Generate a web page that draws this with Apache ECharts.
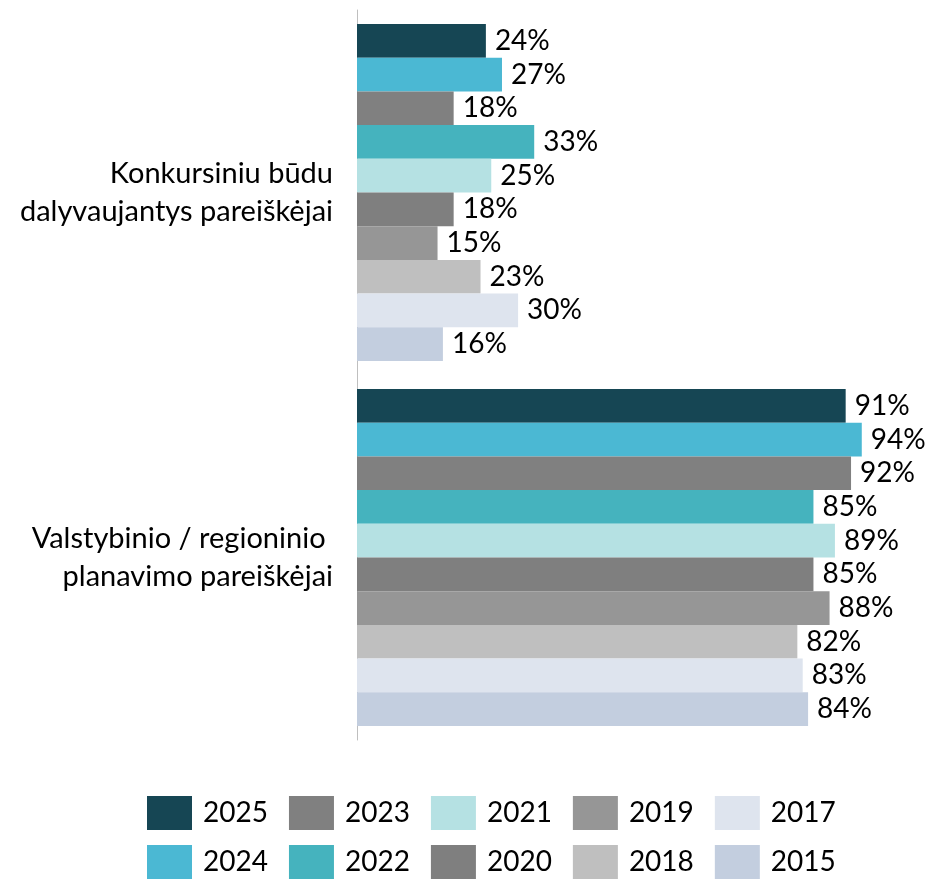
<!DOCTYPE html>
<html>
<head>
<meta charset="utf-8">
<script src="https://cdn.jsdelivr.net/npm/echarts@6/dist/echarts.min.js"></script>
<style>
  html, body { margin: 0; padding: 0; background: #fff; }
  #container { width: 931px; height: 879px; }
</style>
</head>
<body>
<div id="container"></div>
<script>
var categories = ['Konkursiniu būdu\ndalyvaujantys pareiškėjai', 'Valstybinio / regioninio \nplanavimo pareiškėjai'];
var years = ['2025', '2024', '2023', '2022', '2021', '2020', '2019', '2018', '2017', '2015'];
var colors = ['#164654', '#4BB8D3', '#808080', '#45B3BE', '#B5E1E3', '#7F7F7F', '#969696', '#BFBFBF', '#DEE4EE', '#C3CEDF'];
// values per year: [konkursiniu, valstybinio]
var values = {
    '2025': [24, 91],
    '2024': [27, 94],
    '2023': [18, 92],
    '2022': [33, 85],
    '2021': [25, 89],
    '2020': [18, 85],
    '2019': [15, 88],
    '2018': [23, 82],
    '2017': [30, 83],
    '2015': [16, 84]
};
var legendRow1 = ['2025', '2023', '2021', '2019', '2017'];
var legendRow2 = ['2024', '2022', '2020', '2018', '2015'];

var font = 'Lato, "DejaVu Sans", sans-serif';
var dom = document.getElementById('container');
var myChart = echarts.init(dom);

var series = years.map(function (y, i) {
    return {
        name: y,
        type: 'bar',
        data: values[y],
        barGap: 0,
        barCategoryGap: '7.7%',
        itemStyle: { color: colors[i] },
        label: {
            show: true,
            position: 'right',
            distance: 9,
            formatter: '{c}%',
            color: '#000',
            fontSize: 28,
            fontFamily: font
        }
    };
});

function legendRow(names, top) {
    return {
        data: names,
        left: 147,
        top: top,
        padding: 0,
        itemWidth: 45,
        itemHeight: 34,
        itemGap: 21,
        icon: 'rect',
        textStyle: {
            fontSize: 28,
            fontFamily: font,
            color: '#000',
            padding: [0, 0, 0, 6]
        }
    };
}

var option = {
    animation: false,
    grid: { left: 357, right: 37, top: 10, bottom: 139 },
    legend: [legendRow(legendRow1, 796), legendRow(legendRow2, 845)],
    xAxis: {
        type: 'value',
        min: 0,
        max: 100,
        show: false
    },
    yAxis: {
        type: 'category',
        inverse: true,
        data: categories,
        axisLine: { show: true, lineStyle: { color: '#BFBFBF', width: 1 } },
        axisTick: { show: false },
        axisLabel: {
            margin: 24,
            fontSize: 29,
            lineHeight: 38,
            color: '#000',
            fontFamily: font,
            align: 'right'
        }
    },
    series: series
};

myChart.setOption(option, true);
</script>
</body>
</html>
